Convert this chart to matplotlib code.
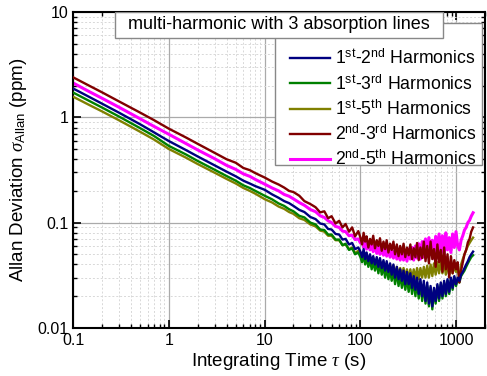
import numpy as np
import matplotlib
matplotlib.use('Agg')
from matplotlib import pyplot as plt
from matplotlib.patches import Rectangle
from matplotlib.ticker import LogLocator, FuncFormatter, NullFormatter

plt.rcParams['font.family'] = ['Liberation Sans', 'DejaVu Sans']
plt.rcParams['mathtext.fontset'] = 'custom'
plt.rcParams['mathtext.rm'] = 'Liberation Sans'
plt.rcParams['mathtext.sf'] = 'Liberation Sans'
plt.rcParams['mathtext.it'] = 'Liberation Serif:italic'

# Integrationszeit (s)
tau = [0.1, 0.15, 0.2, 0.3, 0.5, 0.7, 1, 1.5, 2, 3, 4, 5, 6, 7, 8, 10, 12, 14, 16, 18,
       20, 23, 26, 30, 34, 38, 42, 46, 50, 55, 60, 65, 70, 76, 82, 88, 95,
       100, 104, 108, 112, 116, 121, 126, 131, 136, 142, 148, 154, 160, 167, 174, 181, 188, 196, 204, 212,
       221, 230, 240, 250, 260, 271, 282, 294, 306, 319, 332, 346, 360, 375, 390, 406, 423, 441, 459, 478,
       498, 519, 540, 563, 586, 610, 636, 662, 690, 718, 748, 779, 811, 845, 880, 917, 955, 995, 1036, 1079,
       1124, 1171, 1220, 1270, 1323, 1378, 1435, 1500]

# Allan-Abweichung (ppm)
h12 = [1.88, 1.55, 1.35, 1.11, 0.86, 0.72, 0.595, 0.49, 0.425, 0.35, 0.305, 0.275, 0.25, 0.235, 0.222, 0.205, 0.185, 0.172, 0.16, 0.153,
       0.144, 0.132, 0.126, 0.113, 0.108, 0.098, 0.096, 0.087, 0.086, 0.078, 0.077, 0.069, 0.07, 0.062, 0.064, 0.056, 0.058,
       0.053, 0.047, 0.056, 0.045, 0.052, 0.043, 0.05, 0.041, 0.048, 0.04, 0.047, 0.038, 0.046, 0.037, 0.044, 0.035, 0.043, 0.034, 0.041, 0.032,
       0.04, 0.03, 0.038, 0.029, 0.036, 0.028, 0.035, 0.026, 0.034, 0.026, 0.033, 0.024, 0.031, 0.023, 0.03, 0.021, 0.029, 0.02, 0.028, 0.018,
       0.027, 0.017, 0.025, 0.016, 0.024, 0.018, 0.026, 0.019, 0.027, 0.02, 0.028, 0.021, 0.029, 0.022, 0.03, 0.024, 0.031, 0.026, 0.03, 0.028,
       0.032, 0.034, 0.037, 0.04, 0.043, 0.047, 0.05, 0.053]
h13 = [1.72, 1.42, 1.24, 1.02, 0.79, 0.665, 0.535, 0.445, 0.385, 0.318, 0.277, 0.25, 0.226, 0.213, 0.2, 0.18, 0.166, 0.152, 0.144, 0.134,
       0.128, 0.116, 0.112, 0.1, 0.096, 0.086, 0.085, 0.077, 0.077, 0.069, 0.069, 0.061, 0.063, 0.055, 0.057, 0.05, 0.052,
       0.047, 0.042, 0.05, 0.04, 0.047, 0.038, 0.045, 0.036, 0.043, 0.035, 0.042, 0.033, 0.041, 0.032, 0.039, 0.03, 0.038, 0.029, 0.036, 0.028,
       0.035, 0.026, 0.034, 0.025, 0.032, 0.024, 0.031, 0.023, 0.03, 0.022, 0.03, 0.021, 0.029, 0.02, 0.028, 0.019, 0.027, 0.018, 0.026, 0.017,
       0.025, 0.016, 0.024, 0.015, 0.023, 0.017, 0.025, 0.018, 0.026, 0.019, 0.027, 0.02, 0.028, 0.021, 0.029, 0.023, 0.03, 0.025, 0.029, 0.027,
       0.031, 0.033, 0.035, 0.038, 0.041, 0.044, 0.047, 0.049]
h15 = [1.57, 1.3, 1.14, 0.94, 0.73, 0.615, 0.5, 0.415, 0.36, 0.298, 0.26, 0.235, 0.213, 0.2, 0.188, 0.167, 0.155, 0.142, 0.135, 0.126,
       0.121, 0.11, 0.106, 0.096, 0.092, 0.084, 0.082, 0.075, 0.075, 0.068, 0.068, 0.061, 0.062, 0.056, 0.058, 0.051, 0.054,
       0.049, 0.044, 0.052, 0.043, 0.049, 0.041, 0.047, 0.04, 0.046, 0.038, 0.044, 0.037, 0.043, 0.036, 0.042, 0.035, 0.041, 0.034, 0.04, 0.033,
       0.039, 0.032, 0.038, 0.031, 0.037, 0.031, 0.037, 0.03, 0.036, 0.029, 0.036, 0.029, 0.036, 0.029, 0.037, 0.029, 0.037, 0.03, 0.038, 0.03,
       0.039, 0.03, 0.04, 0.031, 0.041, 0.032, 0.042, 0.033, 0.043, 0.033, 0.042, 0.032, 0.041, 0.032, 0.04, 0.033, 0.039, 0.034, 0.036, 0.03,
       0.04, 0.045, 0.05, 0.055, 0.06, 0.064, 0.068, 0.072]
h23 = [2.40, 1.98, 1.73, 1.42, 1.11, 0.94, 0.78, 0.645, 0.56, 0.46, 0.40, 0.37, 0.33, 0.315, 0.295, 0.268, 0.245, 0.23, 0.215, 0.20,
       0.195, 0.18, 0.16, 0.15, 0.14, 0.125, 0.128, 0.11, 0.115, 0.098, 0.104, 0.09, 0.097, 0.082, 0.09, 0.074, 0.083,
       0.072, 0.062, 0.08, 0.066, 0.074, 0.058, 0.07, 0.062, 0.075, 0.057, 0.068, 0.06, 0.071, 0.054, 0.066, 0.056, 0.068, 0.052, 0.063, 0.055,
       0.066, 0.05, 0.062, 0.048, 0.06, 0.05, 0.063, 0.047, 0.058, 0.049, 0.062, 0.045, 0.057, 0.047, 0.064, 0.044, 0.058, 0.046, 0.066, 0.043,
       0.06, 0.041, 0.066, 0.045, 0.056, 0.038, 0.062, 0.042, 0.055, 0.034, 0.058, 0.036, 0.05, 0.03, 0.048, 0.033, 0.044, 0.036, 0.042, 0.027,
       0.035, 0.042, 0.05, 0.055, 0.065, 0.07, 0.082, 0.09]
h25 = [2.12, 1.74, 1.52, 1.25, 0.97, 0.82, 0.69, 0.565, 0.49, 0.405, 0.35, 0.32, 0.29, 0.275, 0.257, 0.232, 0.213, 0.2, 0.185, 0.178,
       0.168, 0.155, 0.146, 0.133, 0.127, 0.116, 0.112, 0.104, 0.1, 0.092, 0.09, 0.083, 0.082, 0.075, 0.076, 0.069, 0.07,
       0.064, 0.07, 0.058, 0.068, 0.056, 0.065, 0.055, 0.064, 0.053, 0.062, 0.051, 0.06, 0.05, 0.058, 0.049, 0.057, 0.048, 0.056, 0.047, 0.055,
       0.046, 0.054, 0.045, 0.053, 0.044, 0.052, 0.044, 0.054, 0.043, 0.056, 0.045, 0.058, 0.044, 0.06, 0.046, 0.063, 0.045, 0.066, 0.047, 0.07,
       0.048, 0.072, 0.05, 0.068, 0.046, 0.074, 0.05, 0.078, 0.052, 0.075, 0.05, 0.08, 0.055, 0.072, 0.052, 0.078, 0.058, 0.082, 0.06, 0.055,
       0.068, 0.075, 0.085, 0.09, 0.1, 0.105, 0.115, 0.124]

labels = [r'1$^{\rm st}$-2$^{\rm nd}$ Harmonics',
          r'1$^{\rm st}$-3$^{\rm rd}$ Harmonics',
          r'1$^{\rm st}$-5$^{\rm th}$ Harmonics',
          r'2$^{\rm nd}$-3$^{\rm rd}$ Harmonics',
          r'2$^{\rm nd}$-5$^{\rm th}$ Harmonics']
farben = ['#000080', '#008000', '#808000', '#800000', '#ff00ff']
reihen = [h12, h13, h15, h23, h25]
ordnung = [6, 4, 3, 5, 2]  # Zeichenreihenfolge
breiten = [1.7, 1.7, 1.7, 1.7, 2.2]

fig = plt.figure(figsize=(4.87, 3.76), dpi=100)
ax = fig.add_axes([0.150, 0.128, 0.846, 0.840])

for y, c, lab, z, lw in zip(reihen, farben, labels, ordnung, breiten):
    ax.plot(tau, y, color=c, lw=lw, label=lab, zorder=z)

ax.set_xscale('log')
ax.set_yscale('log')
ax.set_xlim(0.1, 2000)
ax.set_ylim(0.01, 10)

fmt = FuncFormatter(lambda v, p: '%g' % v)
for achse in (ax.xaxis, ax.yaxis):
    achse.set_major_locator(LogLocator(base=10))
    achse.set_minor_locator(LogLocator(base=10, subs=np.arange(2, 10)))
    achse.set_major_formatter(fmt)
    achse.set_minor_formatter(NullFormatter())

ax.tick_params(which='both', direction='in', top=True, right=True, labelsize=11.5)
ax.tick_params(which='major', length=6, width=1.2)
ax.tick_params(which='minor', length=3, width=1)
for s in ax.spines.values():
    s.set_linewidth(1.5)

ax.grid(which='major', color='#aaaaaa', lw=0.9, zorder=0)
ax.grid(which='minor', color='#d8d8d8', lw=0.7, ls=(0, (2, 2)), zorder=0)
ax.set_axisbelow(True)

ax.set_xlabel(r'Integrating Time $\it{\tau}$ (s)', fontsize=13.5, labelpad=2)
ax.set_ylabel(r'Allan Deviation $\it{\sigma}_{\rm Allan}$ (ppm)', fontsize=13.5, labelpad=6)

# Legendenrahmen separat, Titelkasten liegt darüber
ax.add_patch(Rectangle((0.490, 0.516), 0.503, 0.449, transform=ax.transAxes,
                       facecolor='white', edgecolor='#888888', lw=1, zorder=10))
ax.add_patch(Rectangle((0.102, 0.918), 0.796, 0.082, transform=ax.transAxes,
                       facecolor='white', edgecolor='#888888', lw=1, zorder=12))
ax.text(0.5, 0.959, 'multi-harmonic with 3 absorption lines', transform=ax.transAxes,
        ha='center', va='center', fontsize=13, zorder=13)

leg = ax.legend(loc='upper left', bbox_to_anchor=(0.527, 0.883), borderaxespad=0, borderpad=0,
                fontsize=12.7, frameon=False,
                handlelength=2.25, handletextpad=0.3, labelspacing=0.33)
leg.set_zorder(11)

fig.savefig('out.png', dpi=100)
